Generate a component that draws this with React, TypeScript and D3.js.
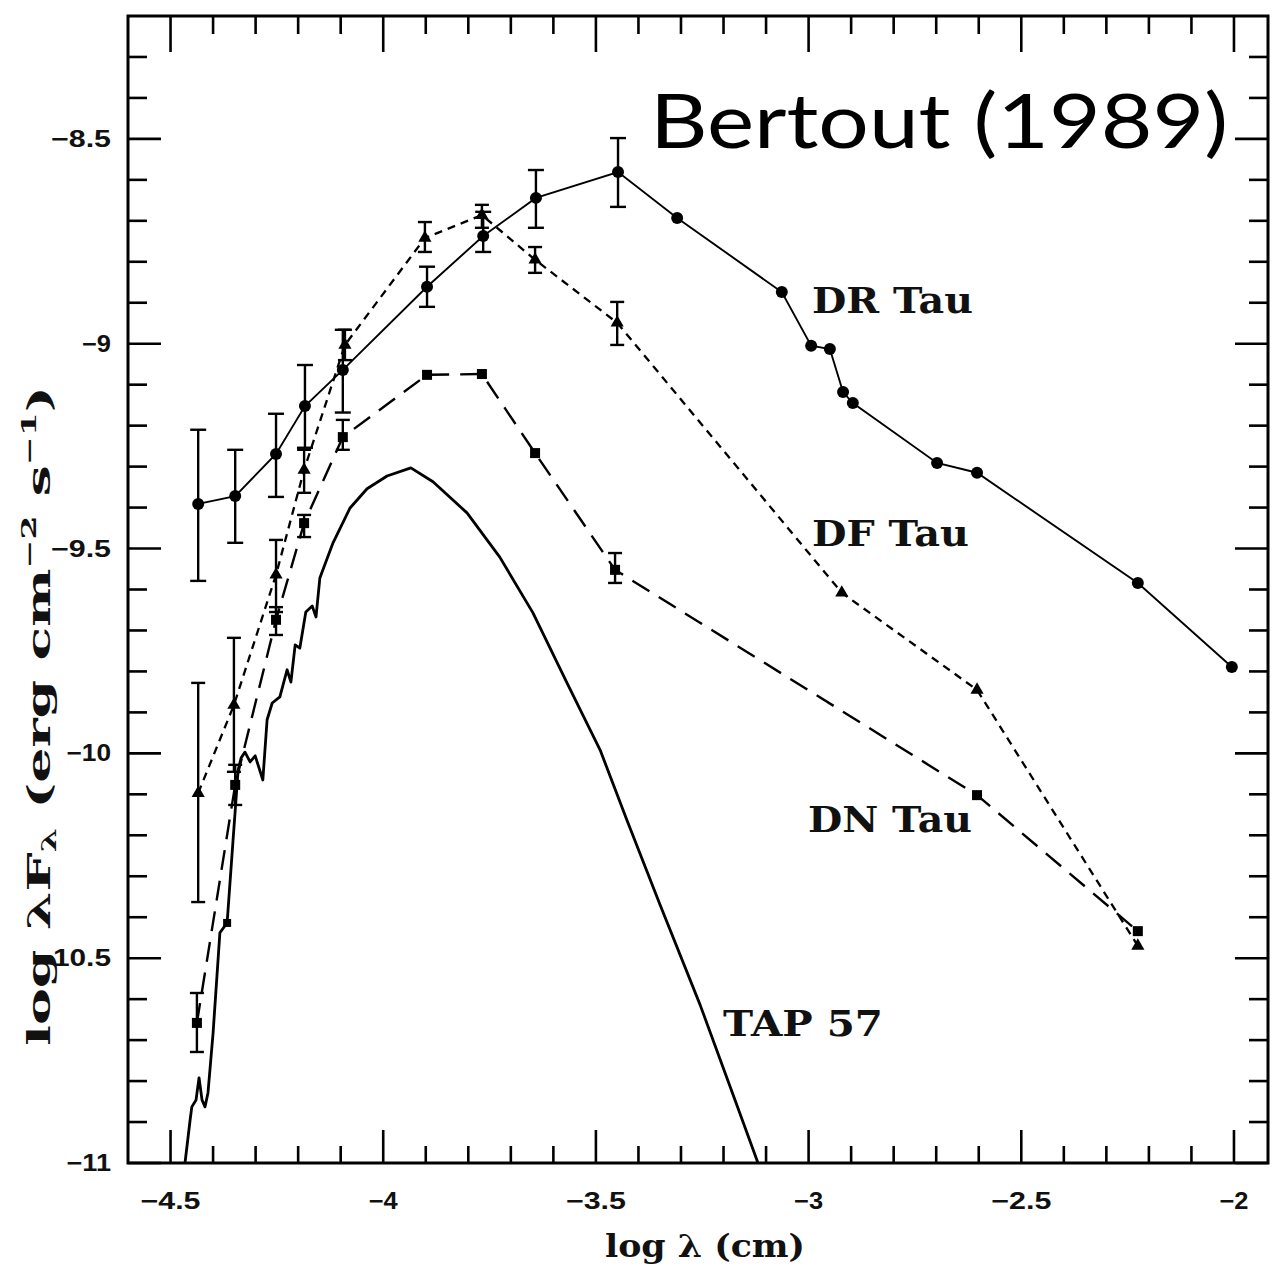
import React from "react";
import * as d3 from "d3";

// ---------------- data ----------------
// DR Tau: solid line, filled circles
const drX = [-4.435, -4.348, -4.252, -4.184, -4.095, -3.897, -3.765, -3.641, -3.448, -3.309, -3.063, -2.994, -2.950, -2.919, -2.896, -2.698, -2.604, -2.226, -2.005];
const drY = [-9.391, -9.372, -9.269, -9.152, -9.064, -8.861, -8.737, -8.644, -8.581, -8.693, -8.874, -9.005, -9.013, -9.118, -9.145, -9.291, -9.315, -9.584, -9.789];
const drErrLo = [-9.579, -9.486, -9.374, -9.254, -9.168, -8.910, -8.776, -8.717, -8.666, null, null, null, null, null, null, null, null, null, null];
const drErrHi = [-9.210, -9.259, -9.171, -9.052, -8.966, -8.812, -8.678, -8.576, -8.498, null, null, null, null, null, null, null, null, null, null];

// DF Tau: short-dashed line, triangles
const dfX = [-4.435, -4.351, -4.252, -4.186, -4.090, -3.902, -3.768, -3.643, -3.450, -2.922, -2.604, -2.226];
const dfY = [-10.097, -9.882, -9.564, -9.308, -9.003, -8.742, -8.686, -8.795, -8.949, -9.608, -9.845, -10.470];
const dfErrLo = [-10.363, -10.045, -9.655, -9.364, -9.040, -8.776, -8.717, -8.827, -9.003, null, null, null];
const dfErrHi = [-9.828, -9.718, -9.479, -9.259, -8.966, -8.703, -8.661, -8.764, -8.898, null, null, null];

// DN Tau: long-dashed line, squares
const dnX = [-4.438, -4.348, -4.252, -4.186, -4.095, -3.897, -3.768, -3.643, -3.455, -2.604, -2.226];
const dnY = [-10.658, -10.077, -9.674, -9.438, -9.228, -9.076, -9.074, -9.267, -9.552, -10.102, -10.434];
const dnErrLo = [-10.729, -10.126, -9.711, -9.472, -9.259, null, null, null, -9.584, null, null];
const dnErrHi = [-10.585, -10.028, -9.643, -9.418, -9.186, null, null, null, -9.511, null, null];

// TAP 57: model photosphere curve (solid)
const tapX = [-4.466, -4.454, -4.450, -4.440, -4.433, -4.426, -4.419, -4.412, -4.400, -4.384, -4.367, -4.353, -4.341, -4.334, -4.325, -4.313, -4.301, -4.283, -4.273, -4.261, -4.243, -4.226, -4.217, -4.207, -4.196, -4.182, -4.167, -4.158, -4.149, -4.118, -4.078, -4.038, -3.991, -3.935, -3.883, -3.803, -3.726, -3.648, -3.568, -3.490, -3.427, -3.349, -3.255, -3.173, -3.119];
const tapY = [-11.0, -10.895, -10.863, -10.846, -10.792, -10.846, -10.863, -10.829, -10.683, -10.438, -10.414, -10.211, -10.040, -10.011, -9.997, -10.021, -10.006, -10.065, -9.918, -9.877, -9.862, -9.796, -9.826, -9.735, -9.743, -9.655, -9.640, -9.667, -9.572, -9.486, -9.401, -9.354, -9.323, -9.303, -9.337, -9.413, -9.521, -9.657, -9.828, -9.992, -10.163, -10.370, -10.614, -10.846, -11.0];
const tapMarkX = [-4.367];
const tapMarkY = [-10.414];

// axes
const xMajorTicks = [-4.5, -4, -3.5, -3, -2.5, -2];
const xTickLabels = ["\u22124.5", "\u22124", "\u22123.5", "\u22123", "\u22122.5", "\u22122"];
const yMajorTicks = [-11, -10.5, -10, -9.5, -9, -8.5];
const yTickLabels = ["\u221211", "\u221210.5", "\u221210", "\u22129.5", "\u22129", "\u22128.5"];
const xMinorTicks = d3.range(-45, -19).map((v) => v / 10);
const yMinorTicks = d3.range(-110, -82).map((v) => v / 10);

const seriesLabels = ["DR Tau", "DF Tau", "DN Tau", "TAP 57"];
const sourceNote = "Bertout (1989)";

// ---------------- chart ----------------
const W = 1275;
const H = 1268;
const L = 128, R = 1268, T = 16, B = 1163;

const x = d3.scaleLinear().domain([-4.6, -1.92]).range([L, R]);
const y = d3.scaleLinear().domain([-11, -8.2]).range([B, T]);

const lineGen = d3
  .line<[number, number]>()
  .x((d) => x(d[0]))
  .y((d) => y(d[1]));

const zip = (a: number[], b: number[]): [number, number][] => a.map((v, i) => [v, b[i]]);

function ErrorBars({ xs, lo, hi, cap }: { xs: number[]; lo: (number | null)[]; hi: (number | null)[]; cap: number }) {
  return (
    <g stroke="#000" strokeWidth={2.4}>
      {xs.map((xv, i) => {
        const l = lo[i];
        const h = hi[i];
        if (l == null || h == null) return null;
        const cx = x(xv);
        return (
          <g key={i}>
            <line x1={cx} x2={cx} y1={y(l)} y2={y(h)} />
            <line x1={cx - cap} x2={cx + cap} y1={y(l)} y2={y(l)} />
            <line x1={cx - cap} x2={cx + cap} y1={y(h)} y2={y(h)} />
          </g>
        );
      })}
    </g>
  );
}

const triPath = d3.symbol().type(d3.symbolTriangle).size(75)() as string;

export default function App() {
  const tickFont = "'Liberation Sans', Arial, sans-serif";
  const serif = "'DejaVu Serif', 'Liberation Serif', serif";
  return (
    <svg
      width={W}
      height={H}
      viewBox={`0 0 ${W} ${H}`}
      style={{ display: "block", position: "absolute", left: 0, top: 0, background: "#fff" }}
    >
      <rect x={0} y={0} width={W} height={H} fill="#fff" />

      {/* frame */}
      <rect x={L} y={T} width={R - L} height={B - T} fill="none" stroke="#000" strokeWidth={3} />

      {/* ticks */}
      <g stroke="#000" strokeWidth={2.6}>
        {xMinorTicks.map((v) => {
          const major = xMajorTicks.some((m) => Math.abs(m - v) < 1e-6);
          const len = major ? 33 : 17;
          return (
            <g key={"xt" + v}>
              <line x1={x(v)} x2={x(v)} y1={B} y2={B - len} />
              <line x1={x(v)} x2={x(v)} y1={T} y2={T + (major ? 36 : 18)} />
            </g>
          );
        })}
        {yMinorTicks.map((v) => {
          const major = yMajorTicks.some((m) => Math.abs(m - v) < 1e-6);
          const len = major ? 33 : 19;
          return (
            <g key={"yt" + v}>
              <line x1={L} x2={L + len} y1={y(v)} y2={y(v)} />
              <line x1={R} x2={R - len} y1={y(v)} y2={y(v)} />
            </g>
          );
        })}
      </g>

      {/* tick labels */}
      <g fontFamily={tickFont} fontWeight="bold" fontSize={23} fill="#111">
        {xMajorTicks.map((v, i) => (
          <text
            key={"xl" + v}
            x={x(v)}
            y={1209}
            textAnchor="middle"
            textLength={xTickLabels[i].length * 15.5 - 2}
            lengthAdjust="spacingAndGlyphs"
          >
            {xTickLabels[i]}
          </text>
        ))}
        {yMajorTicks.map((v, i) => (
          <text
            key={"yl" + v}
            x={111}
            y={y(v) + 8}
            textAnchor="end"
            textLength={yTickLabels[i].length * 15.5 - 2}
            lengthAdjust="spacingAndGlyphs"
          >
            {yTickLabels[i]}
          </text>
        ))}
      </g>

      {/* axis titles */}
      <text
        x={605}
        y={1257}
        fontFamily={serif}
        fontWeight="bold"
        fontSize={31}
        fill="#111"
        textLength={200}
        lengthAdjust="spacingAndGlyphs"
      >
        log λ (cm)
      </text>
      <text
        transform="translate(50,1046) rotate(-90)"
        fontFamily={serif}
        fontWeight="bold"
        fontSize={32}
        fill="#111"
        textLength={660}
        lengthAdjust="spacingAndGlyphs"
      >
        <tspan>log λF</tspan>
        <tspan fontSize={20} dy={6}>λ</tspan>
        <tspan dy={-6}>{"  (erg  cm"}</tspan>
        <tspan fontSize={20} dy={-14}>−2</tspan>
        <tspan dy={14}>{"  s"}</tspan>
        <tspan fontSize={20} dy={-14}>−1</tspan>
        <tspan dy={14}>)</tspan>
      </text>

      {/* TAP 57 */}
      <path d={lineGen(zip(tapX, tapY)) as string} fill="none" stroke="#000" strokeWidth={2.8} strokeLinejoin="round" />
      {tapMarkX.map((v, i) => (
        <rect key={"tm" + i} x={x(v) - 4} y={y(tapMarkY[i]) - 4} width={8} height={8} fill="#000" />
      ))}

      {/* DN Tau */}
      <path d={lineGen(zip(dnX, dnY)) as string} fill="none" stroke="#000" strokeWidth={2.4} strokeDasharray="20,11" />
      <ErrorBars xs={dnX} lo={dnErrLo} hi={dnErrHi} cap={7} />
      {dnX.map((v, i) => (
        <rect key={"dn" + i} x={x(v) - 5} y={y(dnY[i]) - 5} width={10} height={10} fill="#000" />
      ))}

      {/* DF Tau */}
      <path d={lineGen(zip(dfX, dfY)) as string} fill="none" stroke="#000" strokeWidth={2.3} strokeDasharray="8,6" />
      <ErrorBars xs={dfX} lo={dfErrLo} hi={dfErrHi} cap={7} />
      {dfX.map((v, i) => (
        <path key={"df" + i} d={triPath} transform={`translate(${x(v)},${y(dfY[i])})`} fill="#000" />
      ))}

      {/* DR Tau */}
      <path d={lineGen(zip(drX, drY)) as string} fill="none" stroke="#000" strokeWidth={1.9} />
      <ErrorBars xs={drX} lo={drErrLo} hi={drErrHi} cap={8} />
      {drX.map((v, i) => (
        <circle key={"dr" + i} cx={x(v)} cy={y(drY[i])} r={6} fill="#000" />
      ))}

      {/* series labels */}
      <g fontFamily={serif} fontWeight="bold" fontSize={35} fill="#111">
        <text x={812} y={313} textLength={161} lengthAdjust="spacingAndGlyphs">{seriesLabels[0]}</text>
        <text x={812} y={546} textLength={157} lengthAdjust="spacingAndGlyphs">{seriesLabels[1]}</text>
        <text x={808} y={832} textLength={164} lengthAdjust="spacingAndGlyphs">{seriesLabels[2]}</text>
        <text x={723} y={1036} textLength={160} lengthAdjust="spacingAndGlyphs">{seriesLabels[3]}</text>
      </g>

      {/* source note */}
      <text
        x={650}
        y={148}
        fontFamily="Lato, 'Open Sans', sans-serif"
        fontSize={76}
        fill="#000"
        textLength={578}
        lengthAdjust="spacingAndGlyphs"
      >
        {sourceNote}
      </text>
    </svg>
  );
}
